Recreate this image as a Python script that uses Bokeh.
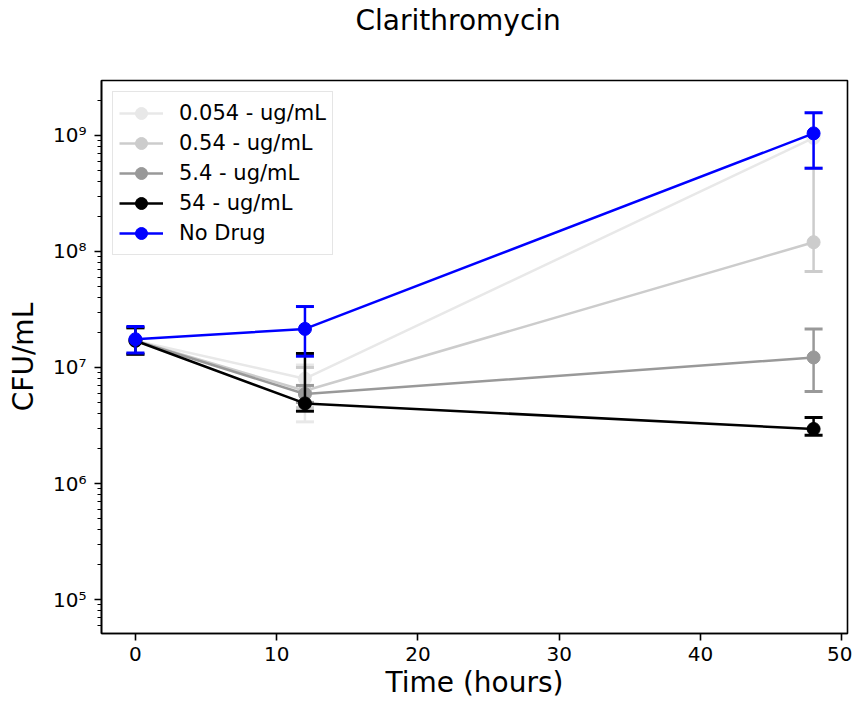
from bokeh.plotting import figure
from bokeh.models import (ColumnDataSource, FixedTicker, CustomJSTickFormatter,
                          Legend, LegendItem, Range1d, Title)
from bokeh.embed import file_html
from bokeh.resources import INLINE

# ---- data ----
times = [0, 12, 48]
labels = ["0.054 - ug/mL", "0.54 - ug/mL", "5.4 - ug/mL", "54 - ug/mL", "No Drug"]
colors = ["#e8e8e8", "#cccccc", "#999999", "#000000", "#0000ff"]

cfu_0054 = [1.7e7, 8.0e6, 9.5e8]
lo_0054 = [1.3e7, 3.4e6, 5.2e8]
hi_0054 = [2.2e7, 1.05e7, 1.57e9]

cfu_054 = [1.7e7, 6.3e6, 1.2e8]
lo_054 = [1.3e7, 4.5e6, 6.7e7]
hi_054 = [2.2e7, 1.0e7, 5.2e8]

cfu_54 = [1.7e7, 5.9e6, 1.22e7]
lo_54 = [1.3e7, 5.0e6, 6.2e6]
hi_54 = [2.2e7, 7.0e6, 2.15e7]

cfu_540 = [1.7e7, 4.9e6, 2.95e6]
lo_540 = [1.3e7, 4.2e6, 2.6e6]
hi_540 = [2.2e7, 1.32e7, 3.7e6]

cfu_nodrug = [1.75e7, 2.15e7, 1.04e9]
lo_nodrug = [1.33e7, 1.25e7, 5.2e8]
hi_nodrug = [2.25e7, 3.35e7, 1.57e9]

series = [
    (cfu_0054, lo_0054, hi_0054),
    (cfu_054, lo_054, hi_054),
    (cfu_54, lo_54, hi_54),
    (cfu_540, lo_540, hi_540),
    (cfu_nodrug, lo_nodrug, hi_nodrug),
]

y_major = [1e5, 1e6, 1e7, 1e8, 1e9]
y_minor = [m * 10 ** e for e in range(4, 10) for m in range(2, 10)]
x_ticks = [0, 10, 20, 30, 40, 50]

FONT = "DejaVu Sans"

p = figure(width=852, height=706, y_axis_type="log",
           x_range=Range1d(-2.4, 50.4), y_range=Range1d(5.1e4, 2.97e9),
           output_backend="svg", toolbar_location=None,
           min_border_left=101, min_border_right=5,
           min_border_top=78, min_border_bottom=73)
p.title = None

p.background_fill_color = "white"
p.border_fill_color = "white"
p.xgrid.grid_line_color = None
p.ygrid.grid_line_color = None
p.outline_line_color = "black"
p.outline_line_width = 1.6

# spacer between title and frame, then the title itself (outermost)
spacer = Title(text=" ", text_font=FONT, text_font_size="28px", standoff=8)
p.add_layout(spacer, "above")
main_title = Title(text="Clarithromycin", text_font=FONT, text_font_size="28px",
                   text_font_style="normal", text_color="black",
                   align="left", offset=254, standoff=2)
p.add_layout(main_title, "above")

items = []
for (y, lo, hi), lab, col in zip(series, labels, colors):
    src = ColumnDataSource(dict(x=times, y=y, lo=lo, hi=hi))
    ln = p.line("x", "y", source=src, line_color=col, line_width=2.5)
    p.segment(x0="x", y0="lo", x1="x", y1="hi", source=src,
              line_color=col, line_width=2.5)
    p.scatter("x", "lo", source=src, marker="dash", size=18,
              line_color=col, line_width=3)
    p.scatter("x", "hi", source=src, marker="dash", size=18,
              line_color=col, line_width=3)
    mk = p.scatter("x", "y", source=src, marker="circle", size=13,
                   fill_color=col, line_color=col)
    items.append(LegendItem(label=lab, renderers=[ln, mk]))

legend = Legend(items=items, location="top_left")
legend.label_text_font = FONT
legend.label_text_font_size = "21px"
legend.label_text_color = "black"
legend.glyph_width = 44
legend.glyph_height = 30
legend.label_height = 20
legend.spacing = 0
legend.padding = 6
legend.margin = 11
legend.label_standoff = 16
legend.border_line_color = "#cccccc"
legend.border_line_width = 1
legend.background_fill_alpha = 0.8
p.add_layout(legend)

# axes
p.xaxis.ticker = FixedTicker(ticks=x_ticks)
p.yaxis.ticker = FixedTicker(ticks=y_major, minor_ticks=y_minor)
p.yaxis.formatter = CustomJSTickFormatter(code="""
const sup = {'0':'\u2070','1':'\u00b9','2':'\u00b2','3':'\u00b3','4':'\u2074',
             '5':'\u2075','6':'\u2076','7':'\u2077','8':'\u2078','9':'\u2079','-':'\u207b'};
const e = Math.round(Math.log10(tick));
return '10' + String(e).split('').map(c => sup[c]).join('');
""")

for ax in (p.xaxis, p.yaxis):
    ax.axis_line_color = "black"
    ax.axis_line_width = 1.6
    ax.major_tick_line_color = "black"
    ax.major_tick_line_width = 1.6
    ax.minor_tick_line_color = "black"
    ax.minor_tick_line_width = 1.2
    ax.major_tick_in = 0
    ax.major_tick_out = 7
    ax.minor_tick_in = 0
    ax.minor_tick_out = 4
    ax.major_label_text_font = FONT
    ax.major_label_text_font_size = "20px"
    ax.major_label_text_color = "black"
    ax.axis_label_text_font = FONT
    ax.axis_label_text_font_size = "28px"
    ax.axis_label_text_font_style = "normal"
    ax.axis_label_text_color = "black"

p.xaxis.minor_tick_line_color = None
p.xaxis.axis_label = "Time (hours)"
p.yaxis.axis_label = "CFU/mL"
p.xaxis.major_label_standoff = 6
p.xaxis.axis_label_standoff = 2
p.yaxis.major_label_standoff = 8
p.yaxis.axis_label_standoff = 10

open("out.html", "w").write(file_html(p, INLINE))
